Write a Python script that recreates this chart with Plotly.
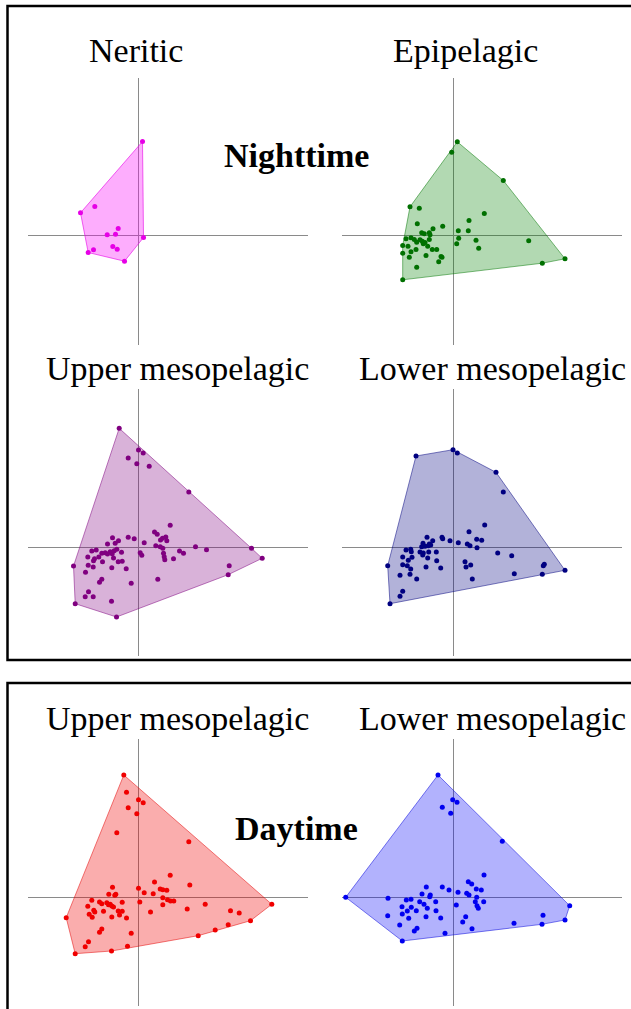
import plotly.graph_objects as go

W, H = 631, 1009

# ---- ordination scores (PC1, PC2) ----
neritic_pc1 = [4, -58, -43.7, -20.3, -31.3, -23, 5, -25.7, -21.3, -45, -50.3, -14]
neritic_pc2 = [94, 22.7, 29, 7, 0.7, 1.3, -2, -11, -13.7, -14.3, -17, -25.7]

epi_pc1 = [4.3, -1.3, 50.3, -43, -33.7, 31.3, 16, -35.7, -10.3, -20, 15.3, 5.3,
           -31.3, -28.7, -23.7, -23, 5.7, -47, -42, -38.7, -33, -30.7, -28, -23.7,
           -29.7, 23, 75.7, -50.3, -45, -36.3, 3.7, -25.3, -20.7, -16.3, -37, 25.7,
           -50.3, -42, -27, -43.7, -12, -11, -14.3, 112, 89.3, -36.3, -50.3]
epi_pc2 = [93.7, 83.3, 55, 28.7, 27.3, 22, 15, 11.7, 9.3, 6.7, 4.7, 4.7,
           2.7, 1.7, 2.7, 0.7, -2.7, -3.3, -2.3, -4, -4.3, -5.7, -7, -4,
           -8.3, -4.7, -5.3, -10, -10.7, -6.7, -8.3, -10.7, -14, -14, -14, -12.7,
           -17.7, -16.3, -20, -21.7, -21, -21.7, -26.3, -23.3, -27.7, -31.7, -44.3]

umeso_night_pc1 = [-19.3, 0, 4.7, -10.3, -1.7, 10.7, 50.3, 31.7, 16, 18.7, -26, -10.3,
                   -4.3, 24, 27.3, 28.3, 22, -20, -23.3, -31, 5.7, 17.3, 21.7, 24.3,
                   57, 68, 113, -42.3, -46.7, -36.7, -33.3, -31, -28.3, -26.3, -24.3, -21.7,
                   -17, 1.7, 3.3, 41, 45, 25, 25.7, 26.3, 35, -50.7, -45, -44,
                   -39.7, -36, -25, -20.3, -16.3, 123.7, -65, -50.3, -45.3, -26.7, -12.3, 90.7,
                   -53, 89.7, 19.3, -36.7, -39, -7.3, -50, -53.3, -45.3, -27, -63.3, -22]
umeso_night_pc2 = [118.7, 97, 94, 89, 83.3, 80.7, 55, 21.7, 15, 12.7, 9.3, 9.7,
                   8.3, 8.7, 10, 6.3, 7, 6.3, 3.7, 3, 4.3, 1.3, 0.3, -1.3,
                   0.3, -2.7, -1.3, -3, -4, -6.3, -5.7, -7, -4.7, -6.7, -3.7, -2.3,
                   -5.3, -5.7, -8.3, -4, -6.3, -6.3, -9.7, -12.7, -11.7, -10, -13.7, -11.7,
                   -10, -14.7, -11, -14.7, -14.3, -11.3, -19, -18.3, -20, -20.7, -21.7, -18.7,
                   -25.3, -27.7, -32.3, -32.3, -35.3, -36.3, -44.7, -49.7, -49.7, -54.3, -56.7, -70]

lmeso_night_pc1 = [0, 4.3, -37, 43, 50.3, 31.7, 16, -26, -20.3, -11, -10.3, -3,
                   23.7, 28.7, -30, -23.7, -22.3, -31.3, -28, -24.7, 5.3, 14.3, 17, 24,
                   -47, -42.3, -41.7, -33, -29.7, -24.3, -16.7, -30.3, 44.7, 58.7, -50.3, -41,
                   -44.7, -25.3, -16.3, 12, -50.3, -45.7, -42.3, 13, 17.7, -27, -12.3, -65.3,
                   91.3, 90.3, 112, -53, -43, -36.3, 61.3, 89.3, 19.3, -50.3, -53, -63]
lmeso_night_pc2 = [97.3, 94, 91, 74.7, 55, 22, 15.3, 9.7, 6.3, 9.7, 8.3, 6.3,
                   7.7, 6.7, 3.7, 3, 2, 0.3, 0.7, 1.3, 4.3, 3, 1.3, -0.7,
                   -3, -2.3, -4.7, -5, -6, -5, -5, -8, -6, -8.7, -10, -10.3,
                   -13.3, -11, -13.7, -14.7, -17.7, -18.7, -22, -20, -18, -20, -21, -18.7,
                   -17.3, -18.7, -23.3, -28.3, -27.3, -32, -26.7, -27.3, -32, -44.3, -49.3, -56.7]

umeso_day_pc1 = [-14.7, -12, 0, 4.7, -10.3, -1.7, -21.7, 50.3, 31.7, 16, 51.3, -26,
                 0, 21.7, 24.3, 28.3, 5.7, 14.7, -29.7, -22.7, -23.7, 24.3, 29, 32,
                 35.3, -46.7, -39, -36.7, -31.7, -30, -28.3, -26.7, -25, -16.3, 1.3, 24.3,
                 66.7, -50.7, -44.7, -43.7, -35, -20.3, -16.3, 48.7, 92, 100.7, -72.3, -49.3,
                 -46.3, -19, -12, -26.7, 12, 112, 133.3, 89.7, -36.7, -39, -7.3, 76.7,
                 59.7, -50, -53.3, -11, -27, -63.3]
umeso_day_pc2 = [122, 104.7, 97.3, 94.3, 89.3, 83.3, 64.3, 55.3, 21.7, 15, 12, 9.7,
                 8.7, 8, 7.3, 6.7, 4.3, 3.3, 2.7, 2.7, 1.7, -0.7, -2.7, -4,
                 -4, -3.3, -5, -6.7, -5.7, -7.7, -7.3, -9, -10, -5.3, -5, -7.7,
                 -7.3, -9.3, -13.3, -15, -14.3, -14, -14.3, -12, -13.7, -16, -20.7, -17.3,
                 -20.3, -18, -21, -20, -15, -23.7, -7.3, -27.7, -32, -35.3, -36.3, -33,
                 -38.7, -44.7, -49.7, -49.3, -54, -56.7]

lmeso_day_pc1 = [-15, -0.3, 4, -10.7, -2.3, 49.3, 31, 15.3, 18.7, -26.7, -10.7, -4,
                 5, 23.3, 28.3, -31, -22.7, -23.3, 13.7, 16, 23.7, -107.3, -65, -46.7,
                 -42, -33.3, -17.3, 30.7, 3.3, 22.3, 24, 25.3, 116.7, -51, -45.7, -41.7,
                 -29, -25.7, -36.7, -17, -65.3, -50.7, -44.3, -27, -12.3, 12.7, 90, 9.7,
                 61, 89, 112, -53.3, -36, -38.7, 19, -8, -50.7]
lmeso_day_pc2 = [122, 97.3, 94.7, 89.7, 83.7, 55.7, 22, 15.3, 13, 10, 10, 7,
                 4.7, 8, 7, 3, 2, 0.3, 3.7, 2, -0.3, -0.3, -1.3, -3,
                 -2.3, -4.7, -4.7, -4.7, -8, -4.7, -8.7, -11.3, -8.7, -9.7, -14, -10.3,
                 -7.3, -11.3, -13.7, -13.7, -18.7, -17, -21.3, -19.7, -21, -19.7, -18.3, -25,
                 -26.3, -27.3, -23, -28, -31.3, -34, -31.7, -36.3, -44]

panel_titles = ["Neritic", "Epipelagic", "Upper mesopelagic", "Lower mesopelagic",
                "Upper mesopelagic", "Lower mesopelagic"]
group_labels = ["Nighttime", "Daytime"]


def convex_hull(xs, ys):
    pts = sorted(set(zip(xs, ys)))

    def cross(o, a, b):
        return (a[0] - o[0]) * (b[1] - o[1]) - (a[1] - o[1]) * (b[0] - o[0])

    lower = []
    for p in pts:
        while len(lower) >= 2 and cross(lower[-2], lower[-1], p) <= 0:
            lower.pop()
        lower.append(p)
    upper = []
    for p in reversed(pts):
        while len(upper) >= 2 and cross(upper[-2], upper[-1], p) <= 0:
            upper.pop()
        upper.append(p)
    h = lower[:-1] + upper[:-1]
    h.append(h[0])
    return [p[0] for p in h], [p[1] for p in h]


# panel layout: (data, colours, crosshair centre in px)
panels = [
    (neritic_pc1, neritic_pc2, "#e600e6", "rgba(250,0,250,0.32)", "rgba(230,0,230,0.6)", 138.5, 235.5),
    (epi_pc1, epi_pc2, "#007000", "rgba(0,128,0,0.30)", "rgba(0,120,0,0.5)", 453, 235.5),
    (umeso_night_pc1, umeso_night_pc2, "#800080", "rgba(128,0,128,0.30)", "rgba(128,0,128,0.5)", 138.5, 547),
    (lmeso_night_pc1, lmeso_night_pc2, "#000080", "rgba(0,0,128,0.30)", "rgba(0,0,128,0.5)", 453, 547),
    (umeso_day_pc1, umeso_day_pc2, "#f00000", "rgba(240,0,0,0.32)", "rgba(230,0,0,0.5)", 138.5, 897),
    (lmeso_day_pc1, lmeso_day_pc2, "#0000f0", "rgba(0,0,250,0.30)", "rgba(0,0,220,0.5)", 453, 897),
]

XL, XR, YD, YU = 111, 169, 109, 158

fig = go.Figure()
layout = {}
for i, (px, py, mc, fc, lc, cx, cy) in enumerate(panels):
    k = "" if i == 0 else str(i + 1)
    hx, hy = convex_hull(px, py)
    fig.add_trace(go.Scatter(x=hx, y=hy, mode="lines", fill="toself", fillcolor=fc,
                             line=dict(color=lc, width=1), hoverinfo="skip",
                             xaxis="x" + k, yaxis="y" + k, showlegend=False))
    fig.add_trace(go.Scatter(x=px, y=py, mode="markers",
                             marker=dict(color=mc, size=5, line=dict(width=0)),
                             xaxis="x" + k, yaxis="y" + k, showlegend=False))
    ax = dict(showgrid=False, showticklabels=False, ticks="", showline=False,
              zeroline=True, zerolinecolor="#8a8a8a", zerolinewidth=1, fixedrange=True)
    layout["xaxis" + k] = dict(ax, domain=[(cx - XL) / W, (cx + XR) / W],
                               range=[-XL, XR], anchor="y" + k)
    layout["yaxis" + k] = dict(ax, domain=[max(0, 1 - (cy + YD) / H), 1 - (cy - YU) / H],
                               range=[-YD, YU], anchor="x" + k)

title_pos = [(136, 50), (465, 50), (178, 368), (492, 368), (178, 718), (492, 718)]
annotations = []
for t, (tx, ty) in zip(panel_titles, title_pos):
    annotations.append(dict(text=t, x=tx / W, y=1 - ty / H, xref="paper", yref="paper",
                            showarrow=False, xanchor="center", yanchor="middle",
                            font=dict(family="Liberation Serif", size=34, color="black")))
for t, (tx, ty) in zip(group_labels, [(296, 155), (296, 828)]):
    annotations.append(dict(text="<b>" + t + "</b>", x=tx / W, y=1 - ty / H, xref="paper",
                            yref="paper", showarrow=False, xanchor="center", yanchor="middle",
                            font=dict(family="Liberation Serif", size=34, color="black")))

shapes = [
    dict(type="rect", xref="paper", yref="paper", x0=7.5 / W, x1=1.02,
         y0=1 - 660 / H, y1=1 - 6 / H, line=dict(color="black", width=2.5)),
    dict(type="rect", xref="paper", yref="paper", x0=7.5 / W, x1=1.02,
         y0=-0.02, y1=1 - 683 / H, line=dict(color="black", width=2.5)),
]

fig.update_layout(width=W, height=H, margin=dict(l=0, r=0, t=0, b=0),
                  paper_bgcolor="white", plot_bgcolor="rgba(0,0,0,0)",
                  annotations=annotations, shapes=shapes, **layout)

fig.write_html("out.html", config={"displayModeBar": False},
               post_script="document.body.style.margin='0';document.body.style.overflow='hidden';")
